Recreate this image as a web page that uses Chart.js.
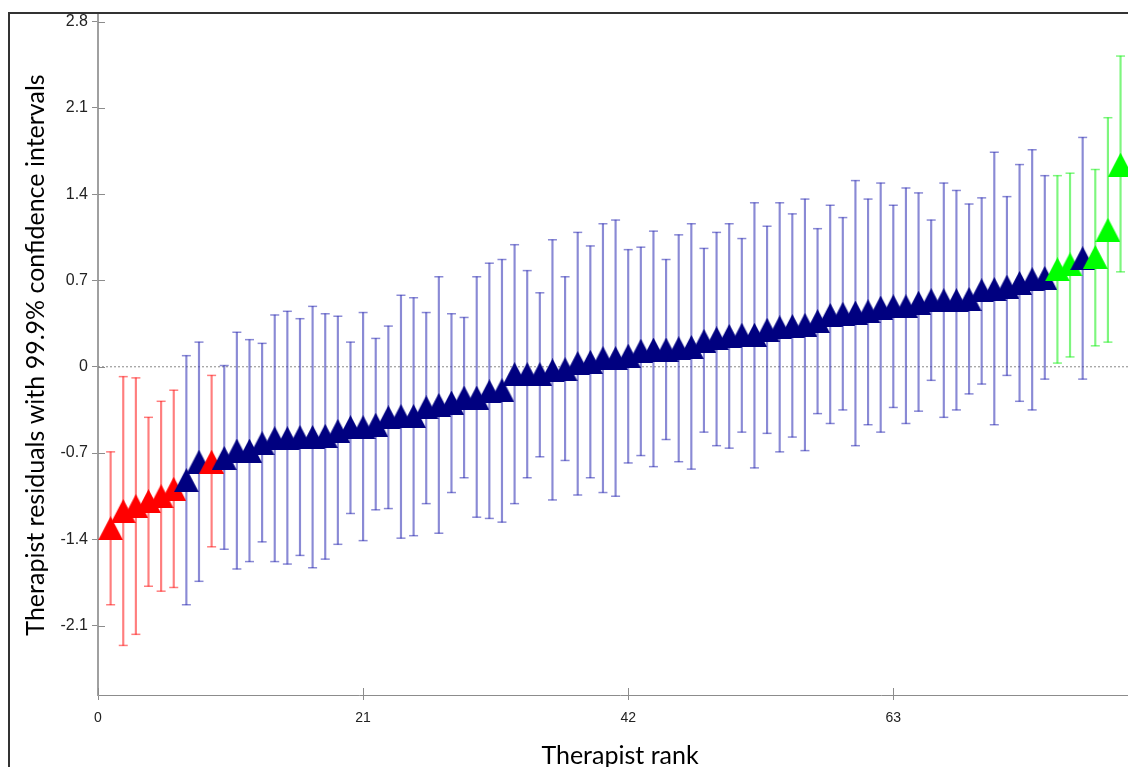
<!DOCTYPE html>
<html><head><meta charset="utf-8">
<script src="https://cdn.jsdelivr.net/npm/chart.js@4.4.1/dist/chart.umd.min.js"></script>
<style>
html,body{margin:0;padding:0;background:#fff;overflow:hidden;}
#wrap{position:relative;width:1128px;height:767px;overflow:hidden;background:#fff;}
#frame{position:absolute;left:8px;top:12px;width:1300px;height:900px;border-left:2px solid #333;border-top:2px solid #333;pointer-events:none;}
canvas{position:absolute;left:0;top:0;}
</style></head><body>
<div id="wrap"><canvas id="c" width="1142" height="767" style="width:1142px;height:767px"></canvas><div id="frame"></div></div>
<script>
// Therapist rank (x)
const ranks = [1,2,3,4,5,6,7,8,9,10,11,12,13,14,15,16,17,18,19,20,21,22,23,24,25,26,27,28,29,30,
  31,32,33,34,35,36,37,38,39,40,41,42,43,44,45,46,47,48,49,50,51,52,53,54,55,56,57,58,59,60,
  61,62,63,64,65,66,67,68,69,70,71,72,73,74,75,76,77,78,79,80,81];
// Therapist residuals
const residuals = [-1.31,-1.17,-1.13,-1.09,-1.05,-0.99,-0.92,-0.77,-0.77,-0.74,
  -0.68,-0.68,-0.62,-0.58,-0.58,-0.57,-0.57,-0.56,-0.52,-0.49,
  -0.49,-0.47,-0.41,-0.40,-0.40,-0.33,-0.31,-0.29,-0.25,-0.25,
  -0.20,-0.19,-0.06,-0.06,-0.06,-0.03,-0.02,0.03,0.04,0.07,
  0.07,0.09,0.13,0.14,0.14,0.15,0.16,0.21,0.23,0.25,
  0.26,0.26,0.30,0.32,0.33,0.34,0.37,0.42,0.43,0.44,
  0.45,0.48,0.49,0.49,0.52,0.54,0.54,0.54,0.55,0.62,
  0.63,0.65,0.68,0.71,0.72,0.79,0.83,0.88,0.89,1.11,1.64];
// Lower 99.9% confidence limits
const lowerCI = [-1.93,-2.26,-2.17,-1.78,-1.82,-1.79,-1.93,-1.74,-1.46,-1.48,
  -1.64,-1.58,-1.42,-1.58,-1.60,-1.53,-1.63,-1.56,-1.44,-1.19,
  -1.41,-1.16,-1.15,-1.39,-1.37,-1.11,-1.35,-1.02,-0.90,-1.22,
  -1.23,-1.26,-1.11,-0.90,-0.73,-1.08,-0.76,-1.04,-0.90,-1.02,
  -1.05,-0.78,-0.72,-0.81,-0.59,-0.77,-0.83,-0.53,-0.64,-0.66,
  -0.53,-0.82,-0.54,-0.69,-0.57,-0.68,-0.38,-0.46,-0.35,-0.64,
  -0.47,-0.53,-0.33,-0.46,-0.36,-0.11,-0.41,-0.35,-0.22,-0.14,
  -0.47,-0.07,-0.28,-0.35,-0.10,0.03,0.08,-0.10,0.17,0.20,0.77];
// Upper 99.9% confidence limits
const upperCI = [-0.69,-0.08,-0.09,-0.41,-0.28,-0.19,0.09,0.20,-0.07,0.01,
  0.28,0.22,0.19,0.42,0.45,0.39,0.49,0.43,0.41,0.20,
  0.44,0.23,0.33,0.58,0.56,0.44,0.73,0.43,0.40,0.73,
  0.84,0.87,0.99,0.78,0.60,1.03,0.73,1.09,0.98,1.16,
  1.19,0.95,0.97,1.10,0.87,1.07,1.16,0.96,1.09,1.16,
  1.04,1.33,1.14,1.33,1.24,1.36,1.12,1.31,1.21,1.51,
  1.36,1.49,1.31,1.45,1.41,1.19,1.49,1.43,1.32,1.37,
  1.74,1.38,1.64,1.76,1.55,1.55,1.57,1.86,1.60,2.02,2.52];
const xTickStep = 21;
const yTickStep = 0.7;
const xMin = 0, xMax = 82.7;
const yMin = -2.662, yMax = 2.853;

// group: below zero / overlaps zero / above zero
function grp(i){ return upperCI[i] < 0 ? 'low' : (lowerCI[i] > 0 ? 'high' : 'mid'); }
const markerColor = {low:'#ff0000', mid:'#000080', high:'#00ff00'};
const barColor = {low:'rgba(255,40,40,0.6)', mid:'rgba(60,60,185,0.6)', high:'rgba(40,240,40,0.6)'};

function tri(color){
  const c=document.createElement('canvas'); c.width=25; c.height=24;
  const g=c.getContext('2d'); g.fillStyle=color; g.beginPath();
  g.moveTo(12.5,0); g.lineTo(25,24); g.lineTo(0,24); g.closePath(); g.fill(); return c;
}
const triImg = {low:tri(markerColor.low), mid:tri(markerColor.mid), high:tri(markerColor.high)};

const innerTicks = {
  id:'innerTicks',
  beforeDatasetsDraw(chart){
    const {ctx, scales:{x,y}, chartArea:a} = chart;
    ctx.save(); ctx.strokeStyle='#8c8c8c'; ctx.lineWidth=1; ctx.beginPath();
    y.ticks.forEach(t=>{const py=Math.round(y.getPixelForValue(t.value))+0.5; ctx.moveTo(a.left,py); ctx.lineTo(a.left+7,py);});
    x.ticks.forEach(t=>{const px=Math.round(x.getPixelForValue(t.value))+0.5; ctx.moveTo(px,a.bottom); ctx.lineTo(px,a.bottom-7);});
    ctx.stroke(); ctx.restore();
  }
};

new Chart(document.getElementById('c'), {
  type:'scatter',
  data:{datasets:[
    {type:'scatter', label:'residual', order:0,
     data: ranks.map((r,i)=>({x:r,y:residuals[i]})),
     pointStyle: c=>triImg[grp(c.dataIndex)], pointRadius:12, pointHoverRadius:12},
    {type:'scatter', label:'upper', order:1,
     data: ranks.map((r,i)=>({x:r,y:upperCI[i]})),
     pointStyle:'line', pointRadius:4.5, pointHoverRadius:4.5, pointBorderWidth:1.5,
     pointBorderColor: c=>barColor[grp(c.dataIndex)]},
    {type:'scatter', label:'lower', order:1,
     data: ranks.map((r,i)=>({x:r,y:lowerCI[i]})),
     pointStyle:'line', pointRadius:4.5, pointHoverRadius:4.5, pointBorderWidth:1.5,
     pointBorderColor: c=>barColor[grp(c.dataIndex)]},
    {type:'bar', label:'ci', order:2, grouped:false,
     data: ranks.map((r,i)=>({x:r,y:[lowerCI[i],upperCI[i]]})),
     backgroundColor: c=>barColor[grp(c.dataIndex)], borderWidth:0, barThickness:1.5},
    {type:'line', label:'zero', order:3,
     data:[{x:xMin,y:0},{x:xMax,y:0}], borderColor:'#888', borderWidth:1, borderDash:[2,2], pointRadius:0}
  ]},
  options:{
    responsive:false, animation:false,
    layout:{autoPadding:false, padding:{top:15,left:0,right:0,bottom:0}},
    plugins:{legend:{display:false}, tooltip:{enabled:false}},
    scales:{
      x:{type:'linear', min:xMin, max:xMax, offset:false,
        afterFit:s=>{s.height=72;},
        border:{display:true,color:'#8c8c8c',width:1},
        grid:{display:true,offset:false,drawOnChartArea:false,drawTicks:true,tickLength:5,color:'#8c8c8c'},
        ticks:{stepSize:xTickStep, includeBounds:false, autoSkip:false, maxRotation:0, padding:10, color:'#222',
          font:{family:'Liberation Sans', size:14}},
        title:{display:true, text:'Therapist rank', color:'#000', font:{family:'Lato', size:25}, padding:{top:0,bottom:-4}}
      },
      y:{type:'linear', min:yMin, max:yMax,
        afterFit:s=>{s.width=98;},
        border:{display:true,color:'#a0a0a0',width:2},
        grid:{display:true,offset:false,drawOnChartArea:false,drawTicks:true,tickLength:6,color:'#8c8c8c'},
        ticks:{stepSize:yTickStep, includeBounds:false, autoSkip:false, padding:4, color:'#222',
          font:{family:'Liberation Sans', size:16},
          callback:v=>String(Math.round(v*10)/10)},
        title:{display:true, text:'Therapist residuals with 99.9% confidence intervals', color:'#000',
          font:{family:'Lato', size:25}, padding:{top:21,bottom:0}}
      }
    }
  },
  plugins:[innerTicks]
});
</script>
</body></html>
